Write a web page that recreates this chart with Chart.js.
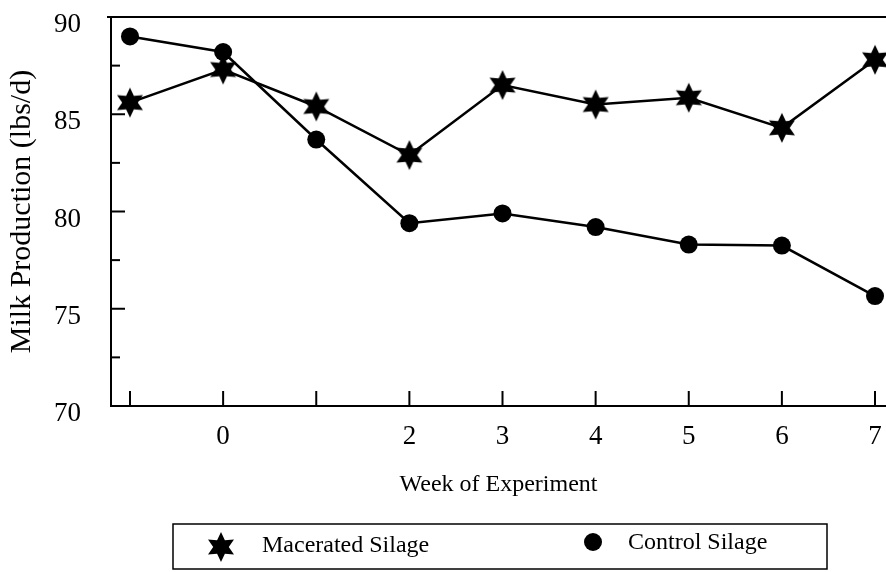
<!DOCTYPE html>
<html>
<head>
<meta charset="utf-8">
<script src="https://cdn.jsdelivr.net/npm/chart.js@4.4.1/dist/chart.umd.min.js"></script>
<style>
  body { margin: 0; background: #fff; }
  canvas { display: block; }
</style>
</head>
<body>
<canvas id="milk" width="886" height="572"></canvas>
<script>
// data
const weeks = [-1, 0, 1, 2, 3, 4, 5, 6, 7];
const weekLabels = ['', '0', '', '2', '3', '4', '5', '6', '7'];
const macerated = [85.6, 87.3, 85.4, 82.9, 86.5, 85.5, 85.85, 84.3, 87.8];
const control = [89.0, 88.2, 83.7, 79.4, 79.9, 79.2, 78.3, 78.25, 75.65];
const minorY = [72.5, 75, 77.5, 80, 82.5, 85, 87.5];

const serif = 'Liberation Serif';

// filled six point star used for the Macerated marker
function makeStar(r) {
  const c = document.createElement('canvas');
  c.width = c.height = r * 2 + 2;
  const g = c.getContext('2d');
  g.translate(r + 1, r + 1);
  g.beginPath();
  for (let i = 0; i < 12; i++) {
    const a = -Math.PI / 2 + i * Math.PI / 6;
    const rad = i % 2 ? r * 0.52 : r;
    g.lineTo(Math.cos(a) * rad, Math.sin(a) * rad);
  }
  g.closePath();
  g.fillStyle = '#000';
  g.fill();
  return c;
}
const star = makeStar(15);

const frame = {
  id: 'frame',
  afterDraw(chart) {
    const {ctx, chartArea: a, scales: {x, y}} = chart;
    ctx.save();
    ctx.strokeStyle = '#000';
    // top border
    ctx.lineWidth = 2;
    ctx.beginPath();
    ctx.moveTo(a.left - 4, a.top);
    ctx.lineTo(a.right, a.top);
    ctx.stroke();
    // inward ticks
    minorY.forEach(v => {
      const py = y.getPixelForValue(v);
      const len = v % 5 === 0 ? 14 : 9;
      ctx.beginPath();
      ctx.moveTo(a.left, py);
      ctx.lineTo(a.left + len, py);
      ctx.stroke();
    });
    weeks.forEach(w => {
      const px = x.getPixelForValue(w);
      ctx.beginPath();
      ctx.moveTo(px, a.bottom);
      ctx.lineTo(px, a.bottom - 15);
      ctx.stroke();
    });
    // legend box
    ctx.lineWidth = 1.5;
    ctx.strokeRect(173, 524, 654, 45);
    ctx.drawImage(star, 221 - star.width / 2, 547 - star.height / 2);
    ctx.fillStyle = '#000';
    ctx.beginPath();
    ctx.arc(593, 542, 9, 0, Math.PI * 2);
    ctx.fill();
    ctx.font = '24px "' + serif + '"';
    ctx.textBaseline = 'middle';
    ctx.fillText(chart.data.datasets[0].label, 262, 546);
    ctx.fillText(chart.data.datasets[1].label, 628, 543);
    ctx.restore();
  }
};

Chart.defaults.color = '#000';
Chart.defaults.font.family = serif;

new Chart(document.getElementById('milk'), {
  type: 'line',
  data: {
    datasets: [{
      label: 'Macerated Silage',
      data: weeks.map((w, i) => ({x: w, y: macerated[i]})),
      borderColor: '#000',
      borderWidth: 2.5,
      pointStyle: star,
      backgroundColor: '#000'
    }, {
      label: 'Control Silage',
      data: weeks.map((w, i) => ({x: w, y: control[i]})),
      borderColor: '#000',
      borderWidth: 2.5,
      pointStyle: 'circle',
      pointRadius: 9,
      backgroundColor: '#000',
      pointBorderWidth: 0
    }]
  },
  options: {
    responsive: false,
    animation: false,
    layout: { autoPadding: false, padding: { top: 17, left: 0, right: 0, bottom: 0 } },
    plugins: {
      legend: { display: false },
      tooltip: { enabled: false }
    },
    scales: {
      x: {
        type: 'linear',
        min: -1.204,
        max: 7.118,
        afterBuildTicks: s => { s.ticks = weeks.map(v => ({value: v})); },
        afterFit: s => { s.height = 166; s.paddingLeft = 0; s.paddingRight = 0; },
        grid: { display: false, drawTicks: false },
        border: { color: '#000', width: 2 },
        ticks: {
          padding: 15,
          font: { size: 27 },
          maxRotation: 0,
          autoSkip: false,
          callback: v => weekLabels[weeks.indexOf(v)] ?? ''
        },
        title: {
          display: true,
          text: 'Week of Experiment',
          font: { size: 24 },
          padding: { top: 0, bottom: 73 }
        }
      },
      y: {
        min: 70,
        max: 90,
        afterFit: s => { s.width = 111; s.paddingTop = 0; s.paddingBottom = 0; },
        grid: { display: false, drawTicks: false },
        border: { color: '#000', width: 2 },
        ticks: {
          stepSize: 5,
          padding: 30,
          labelOffset: 8,
          font: { size: 27 }
        },
        title: {
          display: true,
          text: 'Milk Production (lbs/d)',
          font: { size: 30 },
          padding: { top: 4, bottom: 0 }
        }
      }
    }
  },
  plugins: [frame]
});
</script>
</body>
</html>
